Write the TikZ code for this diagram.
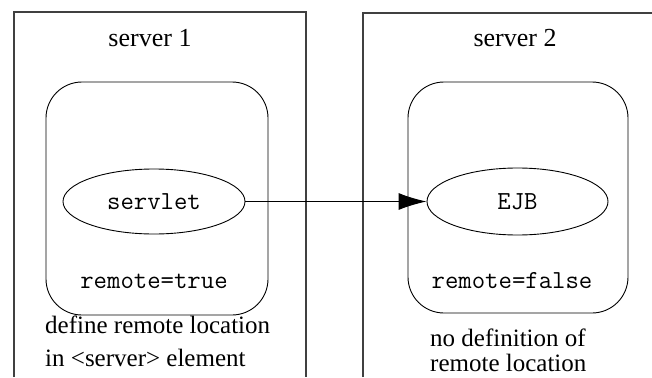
\documentclass[tikz,border=0pt]{standalone}
\usepackage{fontspec}
\setmainfont{Liberation Serif}
\usetikzlibrary{arrows.meta, shapes.geometric, positioning}

\begin{document}
\begin{tikzpicture}[x=1pt, y=-1pt,
    serverbox/.style={line width=1.6pt, black!75},
    container/.style={draw=black, line width=0.9pt, rounded corners=36pt, inner sep=0pt},
    component/.style={shape=ellipse, draw=black, line width=0.9pt, inner sep=0pt, font=\ttfamily\fontsize{26}{28}\selectfont},
    caption/.style={inner sep=0pt, font=\fontsize{25}{27}\selectfont},
    flag/.style={inner sep=0pt, font=\ttfamily\fontsize{26}{28}\selectfont}]
    \useasboundingbox (0,0) rectangle (652,377);

    % the two servers (open at the bottom / right)
    \draw[serverbox] (14,377) -- (14,12) -- (306,12) -- (306,377);
    \draw[serverbox] (363,377) -- (363,13) -- (652,13);
    \node[caption, anchor=base, font=\fontsize{26}{28}\selectfont] (title1) at (150,47) {server 1};
    \node[caption, anchor=base, font=\fontsize{26}{28}\selectfont] (title2) at (515,47) {server 2};

    % containers
    \node[container, minimum width=222pt, minimum height=233pt] (cont1) at (157,198.5) {};
    \node[container, minimum width=220pt, minimum height=231pt] (cont2) at (518,197.5) {};

    % components
    \node[component, minimum width=182pt, minimum height=65pt] (servlet) at (154,201.5) {servlet};
    \node[component, minimum width=181pt, minimum height=67pt] (ejb) at (517.5,201.5) {EJB};
    \draw[line width=1pt, -{Latex[length=28pt, width=17pt]}] (servlet) -- (ejb);

    % flags and notes
    \node[flag, anchor=base] (flag1) at (154,288) {remote=true};
    \node[flag, anchor=base] (flag2) at (512,288) {remote=false};
    \node[caption, anchor=north west, align=left] (note1) at (45,316) {define remote location\\[6pt]in <server> element};
    \node[caption, anchor=north west, align=left] (note2) at (430,329) {no definition of\\[-2pt]remote location};
\end{tikzpicture}
\end{document}
